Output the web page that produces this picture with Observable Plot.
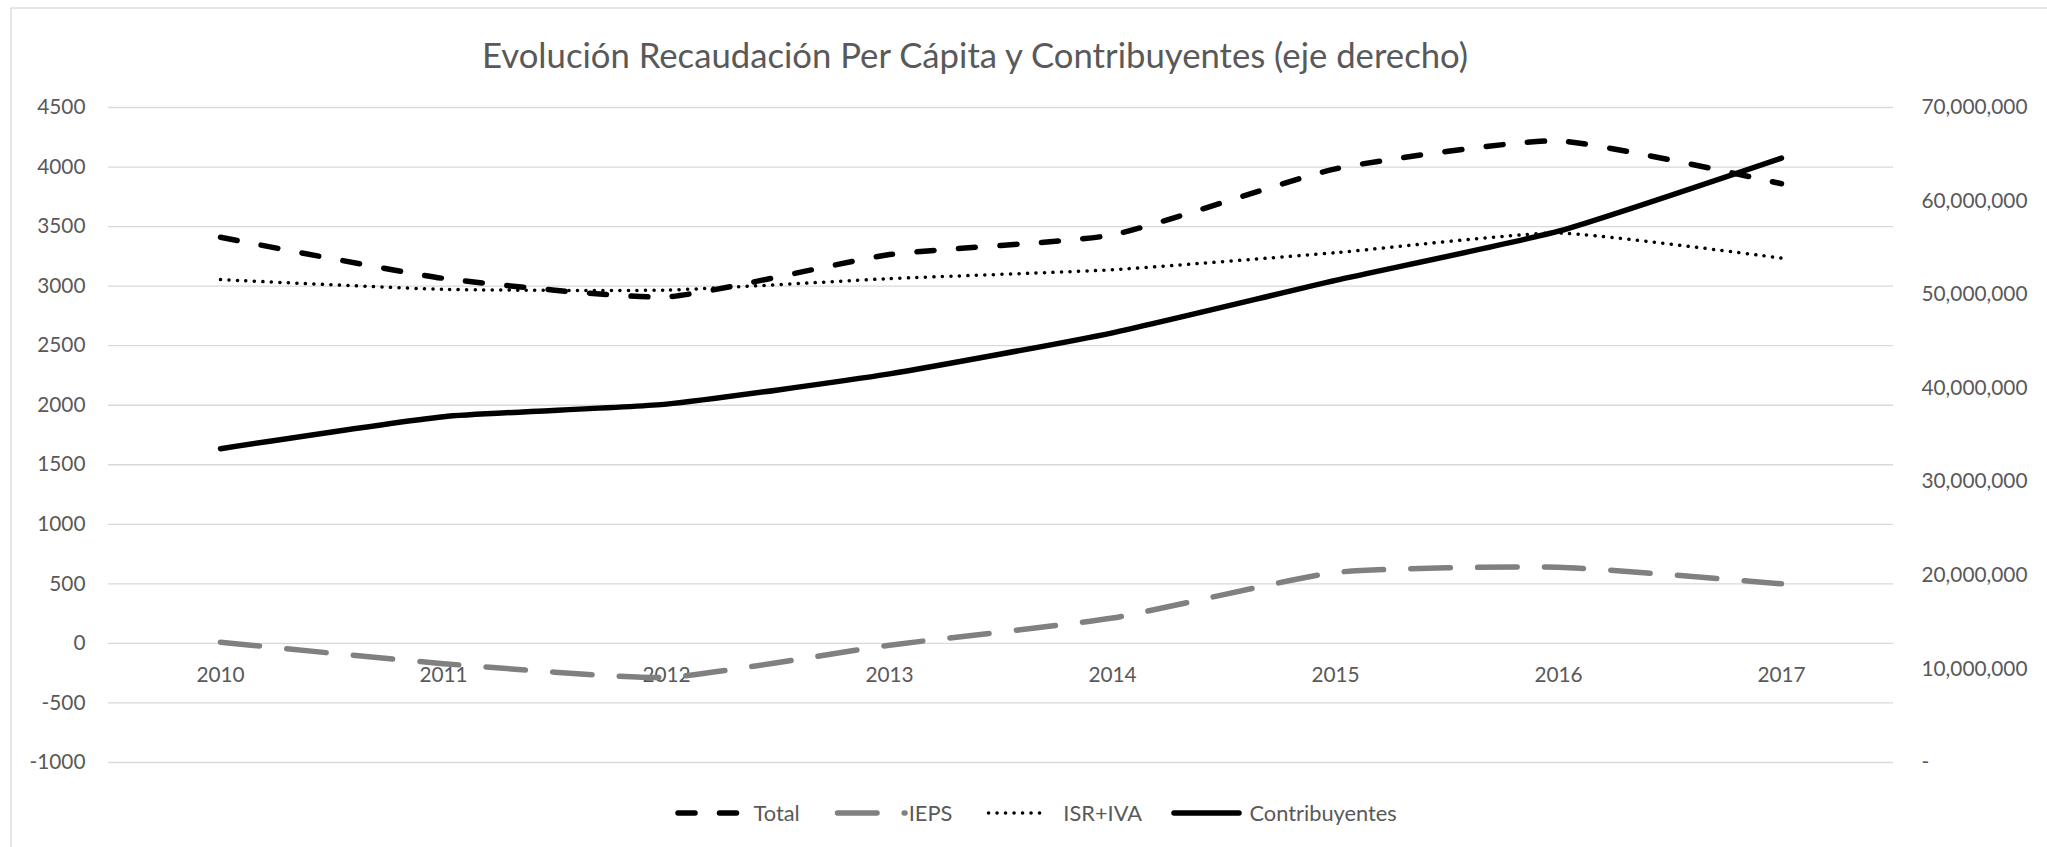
<!DOCTYPE html>
<html>
<head>
<meta charset="utf-8">
<script src="https://cdn.jsdelivr.net/npm/d3@7"></script>
<script src="https://cdn.jsdelivr.net/npm/@observablehq/plot@0.6"></script>
<style>
  html, body { margin: 0; padding: 0; background: #fff; overflow: hidden; }
  #wrap { position: relative; width: 2047px; height: 847px; }
  #wrap > svg { position: absolute; left: 0; top: 0; }
</style>
</head>
<body>
<div id="wrap"></div>
<script>
// ---- Data ----
const years = [2010, 2011, 2012, 2013, 2014, 2015, 2016, 2017];
const total = [3410, 3065, 2910, 3265, 3430, 3985, 4220, 3860];
const ieps = [10, -170, -285, -15, 213, 596, 640, 500];
const isrIva = [3055, 2973, 2967, 3063, 3138, 3281, 3446, 3235];
const contribuyentes = [33540000, 36960000, 38300000, 41530000, 45920000, 51520000, 56780000, 64600000];

const leftTicks = [-1000, -500, 0, 500, 1000, 1500, 2000, 2500, 3000, 3500, 4000, 4500];
const rightTicks = [0, 10000000, 20000000, 30000000, 40000000, 50000000, 60000000, 70000000];
const seriesNames = ["Total", "IEPS", "ISR+IVA", "Contribuyentes"];
const titleText = "Evolución Recaudación Per Cápita y Contribuyentes (eje derecho)";

// ---- Layout ----
const W = 2047, H = 847;
const leftMin = -1000, leftMax = 4500, rightMax = 70000000;
const toLeft = c => leftMin + c / rightMax * (leftMax - leftMin);
const toRight = v => Math.round((v - leftMin) / (leftMax - leftMin) * rightMax / 1e6) * 1e6;
const fmtComma = d3.format(",");

const rows = years.map((yr, i) => ({
  year: yr, total: total[i], ieps: ieps[i], isr: isrIva[i], contrib: toLeft(contribuyentes[i])
}));

const FONT = "Lato, 'Open Sans', sans-serif";
const TXT = "#595959";

const styles = {
  Total: {stroke: "#000000", strokeWidth: 5.5, strokeDasharray: "17 24.5"},
  IEPS: {stroke: "#808080", strokeWidth: 5.5, strokeDasharray: "39.5 27.2"},
  "ISR+IVA": {stroke: "#000000", strokeWidth: 3.5, strokeDasharray: "0.1 8.4"},
  Contribuyentes: {stroke: "#000000", strokeWidth: 5.5, strokeDasharray: null}
};
const lineOpts = {curve: "cardinal", tension: 0.5, strokeLinecap: "round", strokeLinejoin: "round"};

const chart = Plot.plot({
  width: W, height: H,
  marginTop: 107, marginBottom: 85, marginLeft: 108, marginRight: 154,
  style: {fontFamily: FONT, fontSize: "20.8px", color: TXT, background: "transparent", overflow: "visible"},
  x: {type: "point", domain: years, padding: 0.5, axis: null},
  y: {domain: [leftMin, leftMax], axis: null},
  marks: [
    Plot.ruleY(leftTicks, {stroke: "#d9d9d9", strokeWidth: 1.3}),
    Plot.axisY(leftTicks, {anchor: "left", tickSize: 0, tickPadding: 23, tickFormat: d => String(d), fill: TXT}),
    Plot.axisY(rightTicks.map(toLeft), {anchor: "right", tickSize: 0, tickPadding: 28, fill: TXT,
      tickFormat: v => { const r = toRight(v); return r === 0 ? "-" : fmtComma(r); }}),
    Plot.text(years, {x: d => d, y: () => 0, dy: 31.5, text: d => String(d), fill: TXT}),
    Plot.line(rows, {x: "year", y: "total", ...lineOpts, ...styles.Total}),
    Plot.line(rows, {x: "year", y: "ieps", ...lineOpts, ...styles.IEPS}),
    Plot.line(rows, {x: "year", y: "isr", ...lineOpts, ...styles["ISR+IVA"]}),
    Plot.line(rows, {x: "year", y: "contrib", ...lineOpts, stroke: "#000000", strokeWidth: 5.5})
  ]
});

const wrap = document.getElementById("wrap");
wrap.appendChild(chart);

// ---- Overlay: border, title, legend ----
const svg = d3.select(wrap).append("svg")
  .attr("width", W).attr("height", H)
  .style("font-family", FONT);

svg.append("rect")
  .attr("x", 11).attr("y", 8).attr("width", 2200).attr("height", 1000)
  .attr("fill", "none").attr("stroke", "#d9d9d9").attr("stroke-width", 1.3);

svg.append("text")
  .attr("x", 975).attr("y", 68)
  .attr("text-anchor", "middle")
  .attr("font-size", "34.7px")
  .attr("fill", TXT)
  .text(titleText);

const legendY = 813;
const legendItems = [
  {name: "Total", x1: 678, x2: 739, tx: 753.6},
  {name: "IEPS", x1: 837.5, x2: 905, tx: 908.7},
  {name: "ISR+IVA", x1: 988.5, x2: 1042, tx: 1063.3},
  {name: "Contribuyentes", x1: 1174, x2: 1239, tx: 1249.5}
];
const lg = svg.append("g");
legendItems.forEach(it => {
  const s = styles[it.name];
  const ln = lg.append("line")
    .attr("x1", it.x1).attr("x2", it.x2).attr("y1", legendY).attr("y2", legendY)
    .attr("stroke", s.stroke).attr("stroke-width", s.strokeWidth)
    .attr("stroke-linecap", "round");
  if (s.strokeDasharray) ln.attr("stroke-dasharray", s.strokeDasharray);
  lg.append("text")
    .attr("x", it.tx).attr("y", legendY + 8)
    .attr("font-size", "21.8px").attr("fill", TXT)
    .text(it.name);
});
</script>
</body>
</html>
